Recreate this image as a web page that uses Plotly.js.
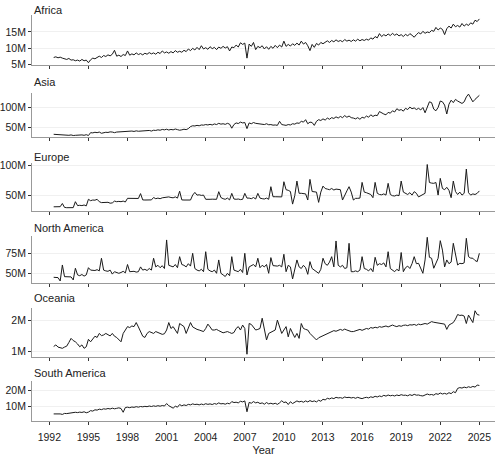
<!DOCTYPE html>
<html>
<head>
<meta charset="utf-8">
<script src="https://cdn.plot.ly/plotly-3.0.1.min.js"></script>
<style>
  html, body { margin: 0; padding: 0; background: #fff; }
  #chart { width: 500px; height: 457px; }
</style>
</head>
<body>
<div id="chart"></div>
<script>
// Samples every 2 months, May 1992 .. Jan 2025 (values in millions)
const startYear = 1992 + 4 / 12;
const stepYears = 2 / 12;

const regions = ['Africa', 'Asia', 'Europe', 'North America', 'Oceania', 'South America'];

const africa = [
  7.2,7.4,7.1,7.3,7.0,6.8, 6.6,6.9,6.4,6.5,6.2,6.4, 6.1,6.6,6.2,6.4,5.6,6.5,
  7.0,6.8,7.3,7.6,7.2,7.8, 7.5,8.0,7.7,8.2,9.4,7.6, 7.9,7.5,8.1,7.8,9.2,7.9,
  8.3,8.0,8.6,8.1,8.4,8.0, 8.5,8.2,8.7,8.3,8.6,8.2, 8.8,8.4,9.2,8.6,8.9,8.5,
  9.0,8.6,9.3,8.8,9.1,8.8, 9.4,9.0,9.8,9.3,10.0,9.5, 10.3,9.6,10.8,9.8,10.2,9.7,
  10.5,9.9,10.3,9.6,10.4,10.0, 10.6,10.1,10.5,9.2,10.4,10.2, 11.0,10.4,11.7,11.2,11.6,7.0,
  11.3,10.6,11.8,9.6,10.6,10.2, 10.8,9.8,10.5,9.7,10.6,10.0, 10.9,10.2,11.0,10.4,12.2,10.6,
  11.2,10.7,11.4,10.9,11.6,11.0, 12.2,11.3,11.8,10.8,9.3,11.2, 10.3,11.5,11.0,11.8,11.4,12.0,
  12.3,11.8,12.4,12.0,12.6,12.1, 12.4,12.0,12.7,12.2,12.5,12.1, 12.6,12.2,12.8,12.3,12.7,12.4,
  12.8,12.5,13.2,12.8,13.6,13.2, 14.5,13.6,14.2,13.8,14.4,13.9, 14.6,14.0,14.4,13.8,14.2,13.6,
  14.3,13.8,14.5,14.0,13.4,14.2, 14.8,14.4,15.2,14.6,15.0,14.8, 15.5,15.2,16.4,15.6,16.2,15.8,
  14.2,16.0,16.8,16.2,17.4,16.6, 17.0,16.5,17.6,16.8,17.4,17.0, 17.8,17.4,18.6,18.2,19.0
];

const asia = [
  34,33.5,34,33,32.5,33, 32,31.5,32.5,31,31.5,32, 32,32.5,31.5,33,31,38,
  37.5,39,38,39.5,36.5,38.5, 39,38.5,40,39.5,38,39.5, 40,39.5,41,40.5,41.5,41,
  42,41,42.5,41.5,42,41.5, 43,42.5,43.5,42,44,43.5, 45,44,46,45,46.5,44.5,
  46,45,47,45.5,44,45, 46.5,45.5,48,53,55,54.5, 56,55,57,56.5,58,57,
  58.5,57,59.5,58,61,59, 60,58.5,61,59,49,58, 62,60.5,64,62,63,48,
  62,60,63,61,60.5,59, 59.5,58,60,57.5,58,56.5, 57,56,66,58,57,56,
  58,57,60,59,62,61, 66,64,70,60,64,63, 56,66,70,68,72,69,
  74,71,75,73,77,74, 78,75,80,76,79,75, 74,72,75,71,76,74,
  79,76,82,78,81,80, 90,86,84,82,88,86, 92,89,97,93,95,91,
  98,95,101,97,99,95, 98,94,100,87,102,114, 112,96,92,100,116,114,
  106,84,108,118,112,120, 116,112,110,114,126,133, 122,114,120,124,130
];

const europe = [
  31.5,31.8,31.5,31.7,37,30.5, 30,30.2,29.8,30.1,40,33.5, 34,33.5,34.5,33,44,41.7,
  42.8,42.5,44,40,38.5,39, 38.5,39,37.5,38,41,40, 40.5,40,41,39.5,45.6,45.5,
  45.6,45,46,45.4,53.5,43, 42.8,43,42.5,43,47,45, 46,45,46.5,47,47.5,48,
  47,46.5,48,46,57.5,43, 42.8,42.5,43,42.8,51,55.5, 51,51.5,50.5,51,44,44.5,
  44,44.2,43.8,44,56.7,47, 45,44,46,43,53.9,44.5, 44,44.5,43.5,44,53.9,46,
  46,45,47,44.5,53.9,46, 45,44.5,46,44,65,48.3, 48.3,48,48.5,48,73.3,60,
  59,57,36,50,74.4,54, 54,54,53,42.8,77.2,57, 56.7,56,38.9,56,66,62,
  61,60,62,59.5,61,60, 60,42.8,52,58,65,56, 42.8,45.6,45.6,46,72.2,56,
  55,54,52,46.7,72.2,54, 52,51.5,53,51,70.6,52, 50,49.5,51,50,74.4,56,
  54,52,55,51,56.7,54, 48,50,52,54,102,72, 71,70.6,72,51,78.9,62,
  60,64,59,46.7,74.4,57, 52,56,51,54,94.4,55, 51,53,52,54,58
];

const northAmerica = [
  45,45.2,44.6,40.4,60.4,45.8, 45.8,46,45.5,41.7,56.3,48, 47,48.5,46.5,48,57,54,
  54,53.5,54.5,53,68.8,54, 53,52.5,54,49,52,51, 50,51,52.5,50.5,61,52,
  52,52.5,51.5,52,58,54, 55,53.5,56,54,68.8,58, 60,57,59.5,56,91.7,60,
  59,58,61,57,70.8,61, 60,58,62,59,75,56, 54,53,55,52,77,55,
  53,52,54,50,66.7,50, 48,46,50,47,70.8,54, 53,52,55,51,75,47.9,
  58,60,61,58,68.8,57, 60,58,61,50,69.6,59.6, 59.6,59,60,58,73.8,52,
  60,58,42.9,55,66.7,58, 56,60,57,48.7,64.6,56, 54,52,50,55,68.8,62,
  60,64,70.8,58,90.4,60, 58,60,56,57,87.5,52, 52,53,52,54,70.8,56,
  55,53,56,52,70,60, 62,61,63,58,77,56, 54,52,55,53,76,52,
  57,59,56,62,70.8,62, 62.5,56,50,66.7,95,70, 68.8,56.3,62,68.8,90.8,79,
  58,66.7,62,64,87.5,73, 60.4,62.5,62,63,93.75,70.8, 69,68.8,66,64.6,75
];

const oceania = [
  1.17,1.22,1.15,1.13,1.11,1.15, 1.18,1.30,1.43,1.36,1.32,1.25, 1.16,1.22,1.11,1.16,1.40,1.32,
  1.42,1.50,1.46,1.59,1.52,1.54, 1.59,1.54,1.51,1.59,1.50,1.46, 1.40,1.32,1.59,1.70,1.81,1.78,
  1.83,1.81,1.94,1.80,1.65,1.50, 1.46,1.59,1.65,1.62,1.59,1.65, 1.62,1.59,1.56,1.58,1.70,1.94,
  1.75,1.81,1.70,1.59,1.91,1.85, 1.81,1.59,1.75,1.94,1.80,1.75, 1.72,1.70,1.68,1.65,1.75,1.89,
  1.80,1.70,1.70,1.72,1.68,1.64, 1.61,1.63,1.65,1.62,1.59,1.62, 1.75,1.81,1.70,1.86,1.75,0.92,
  1.91,1.88,1.80,1.70,1.72,1.75, 2.08,1.70,1.38,1.59,1.62,1.65, 1.70,2.02,1.81,1.59,1.70,1.81,
  1.48,1.75,1.60,1.46,1.59,1.43, 1.91,1.75,1.72,1.70,1.59,1.52, 1.43,1.38,1.45,1.48,1.52,1.55,
  1.59,1.62,1.65,1.68,1.66,1.70, 1.72,1.69,1.73,1.70,1.67,1.65, 1.65,1.68,1.71,1.72,1.69,1.73,
  1.75,1.73,1.78,1.76,1.79,1.77, 1.81,1.79,1.82,1.83,1.80,1.84, 1.86,1.83,1.81,1.84,1.82,1.85,
  1.86,1.84,1.87,1.86,1.88,1.85, 1.89,1.87,1.90,1.91,1.89,1.93, 1.97,1.95,1.94,1.91,1.90,1.89,
  1.89,1.72,1.86,1.90,1.94,2.05, 2.20,2.17,2.18,2.15,1.91,2.18, 2.05,1.94,2.32,2.20,2.18
];

const southAmerica = [
  5.5,5.6,5.4,5.5,5.2,5.8, 5.7,5.9,6.4,6.2,6.5,6.3, 6.6,6.4,6.8,6.2,6.6,7.5,
  7.2,8.0,7.8,8.4,8.1,8.6, 8.4,8.8,8.5,9.0,8.6,8.9, 9.2,8.8,6.5,9.4,9.6,9.3,
  9.7,9.5,9.9,9.6,10.0,9.8, 10.1,9.9,10.3,10.0,10.4,10.1, 10.5,10.2,10.6,10.3,11.8,10.5,
  9.5,9.0,10.2,9.6,11.2,10.4, 11.0,10.6,11.3,11.0,11.6,11.2, 11.4,11.0,11.5,11.1,11.7,11.3,
  11.6,11.2,11.8,11.4,12.2,11.6, 11.8,11.4,12.0,11.6,13.0,12.4, 12.6,12.2,13.2,12.8,13.4,6.8,
  12.5,12.0,13.0,12.2,12.6,11.8, 12.2,11.4,12.4,11.6,12.0,11.5, 12.0,11.3,12.2,13.5,12.4,12.8,
  11.2,12.9,11.8,12.6,13.4,12.8, 13.2,12.6,13.4,12.8,13.6,13.0, 13.4,12.8,13.8,13.2,14.4,14.0,
  15.0,14.6,15.2,14.8,15.6,15.2, 15.4,15.0,15.8,15.4,15.6,15.2, 15.5,15.0,15.6,15.1,14.8,15.3,
  15.6,15.2,15.9,15.5,16.2,15.8, 16.4,16.0,16.8,16.3,17.0,16.5, 16.8,16.4,17.0,16.6,17.2,16.8,
  16.9,16.5,17.2,16.7,17.4,16.9, 17.0,16.6,16.4,17.0,17.6,17.1, 17.3,16.9,17.8,17.4,18.2,17.6,
  18.0,17.5,18.4,17.8,19.0,18.4, 21.0,21.5,21.2,21.8,21.4,22.0, 21.6,22.2,21.8,23.0,22.8
];

const series = [africa, asia, europe, northAmerica, oceania, southAmerica];

const yTickVals = [[5, 10, 15], [50, 100], [50, 100], [50, 75], [1, 2], [10, 20]];
const yTickText = [['5M', '10M', '15M'], ['50M', '100M'], ['50M', '100M'], ['50M', '75M'], ['1M', '2M'], ['10M', '20M']];
const xTickVals = [1992, 1995, 1998, 2001, 2004, 2007, 2010, 2013, 2016, 2019, 2022, 2025];

// panel geometry in pixels (top, bottom) and y ranges
const plotTop = 15, plotBottom = 421;
const panelTop = [15, 93.3, 163.3, 235.7, 308.3, 381];
const panelBottom = [65, 137.3, 210.7, 283.3, 356.7, 421];
const titleY = [10, 82, 157, 228, 298, 373];
const yRanges = [[4.9, 20.2], [26.6, 135], [25, 104], [37.5, 97], [0.84, 2.4], [1.2, 25.5]];

const H = plotBottom - plotTop;
const toPaper = px => (plotBottom - px) / H;

const font = { family: 'Liberation Sans, Arial, sans-serif', size: 10.5, color: '#222' };

const traces = [];
const layout = {
  width: 500,
  height: 457,
  margin: { l: 32, r: 5, t: plotTop, b: 457 - plotBottom },
  paper_bgcolor: '#fff',
  plot_bgcolor: '#fff',
  showlegend: false,
  font: font,
  annotations: []
};

series.forEach((vals, i) => {
  const n = i + 1;
  const xs = vals.map((_, k) => startYear + k * stepYears);
  traces.push({
    x: xs,
    y: vals,
    type: 'scatter',
    mode: 'lines',
    line: { color: '#1a1a1a', width: 1 },
    xaxis: 'x' + n,
    yaxis: 'y' + n,
    hoverinfo: 'skip'
  });

  const last = i === series.length - 1;
  layout['xaxis' + n] = {
    anchor: 'y' + n,
    domain: [0, 1],
    range: [1990.67, 2026.2],
    tickvals: xTickVals,
    ticktext: xTickVals.map(String),
    showticklabels: last,
    ticks: 'outside',
    ticklen: 3,
    tickcolor: '#333',
    ticklabelstandoff: 3,
    showline: true,
    linecolor: '#999',
    linewidth: 1,
    showgrid: false,
    zeroline: false,
    tickfont: font,
    title: last ? { text: 'Year', font: { family: font.family, size: 11, color: '#222' }, standoff: 4 } : { text: '' }
  };
  layout['yaxis' + n] = {
    anchor: 'x' + n,
    domain: [toPaper(panelBottom[i]), toPaper(panelTop[i])],
    range: yRanges[i],
    tickvals: yTickVals[i],
    ticktext: yTickText[i],
    ticks: 'outside',
    ticklen: 3,
    tickcolor: '#333',
    showline: true,
    linecolor: '#999',
    linewidth: 1,
    showgrid: true,
    gridcolor: '#f0f0f0',
    gridwidth: 1,
    zeroline: false,
    tickfont: font
  };
  layout.annotations.push({
    text: regions[i],
    xref: 'paper',
    yref: 'paper',
    x: 0,
    y: toPaper(titleY[i]),
    xanchor: 'left',
    yanchor: 'middle',
    showarrow: false,
    font: { family: font.family, size: 11, color: '#222' }
  });
});

Plotly.newPlot('chart', traces, layout, { displayModeBar: false, staticPlot: true });
</script>
</body>
</html>
